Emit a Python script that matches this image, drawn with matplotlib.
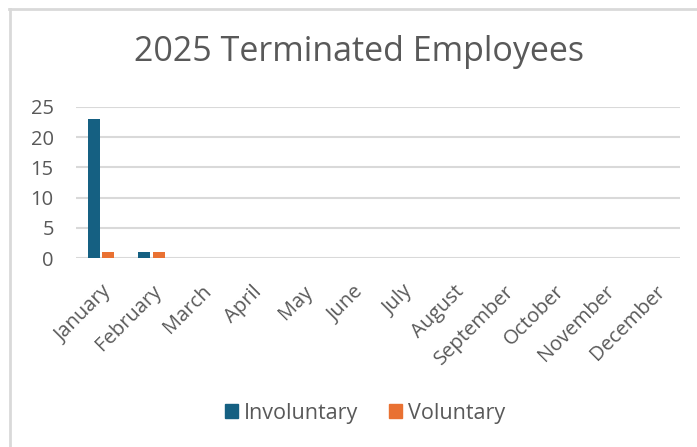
import numpy as np
import matplotlib.pyplot as plt
from matplotlib.lines import Line2D

months = ['January', 'February', 'March', 'April', 'May', 'June', 'July',
          'August', 'September', 'October', 'November', 'December']
involuntary = [23, 1, 0, 0, 0, 0, 0, 0, 0, 0, 0, 0]
voluntary = [1, 1, 0, 0, 0, 0, 0, 0, 0, 0, 0, 0]

plt.rcParams['font.family'] = ['Open Sans', 'DejaVu Sans']
text_col = '#595959'
grid_col = '#d9d9d9'

fig = plt.figure(figsize=(6.97, 4.47), dpi=100)
ax = fig.add_axes([76 / 697, 1 - 258 / 447, 604 / 697, 151 / 447])

x = np.arange(len(months))
w = 0.24
ax.bar(x - 0.14, involuntary, w, color='#156082', label='Involuntary')
ax.bar(x + 0.14, voluntary, w, color='#E97132', label='Voluntary')

ax.set_xlim(-0.5, len(months) - 0.5)
ax.set_ylim(0, 25)
ax.set_yticks(range(0, 26, 5))
ax.yaxis.grid(True, color=grid_col, linewidth=1.5)
ax.set_axisbelow(True)
for s in ax.spines.values():
    s.set_visible(False)
ax.tick_params(length=0, colors=text_col, labelsize=14.5)
ax.tick_params(axis='y', pad=16)
ax.set_xticks(x)
ax.set_xticklabels(months, rotation=45, ha='right', rotation_mode='anchor')
ax.tick_params(axis='x', pad=17)

fig.text(359.5 / 697, 1 - 52 / 447, '2025 Terminated Employees', ha='center',
         va='center', fontsize=24.5, color=text_col)

handles = [plt.Rectangle((0, 0), 1, 1, color='#156082'),
           plt.Rectangle((0, 0), 1, 1, color='#E97132')]
fig.legend(handles, ['Involuntary', 'Voluntary'], loc='center',
           bbox_to_anchor=(365 / 697, 1 - 413 / 447), ncol=2, frameon=False,
           fontsize=15.5, labelcolor=text_col, handlelength=0.6, handleheight=0.6,
           handletextpad=0.3, columnspacing=1.4)

# chart border (top and left edges visible)
fig.add_artist(Line2D([10 / 697, 10 / 697], [0, 1 - 9 / 447], color=grid_col, lw=2,
                      transform=fig.transFigure))
fig.add_artist(Line2D([9 / 697, 1], [1 - 9 / 447, 1 - 9 / 447], color=grid_col, lw=2,
                      transform=fig.transFigure))

plt.savefig('out.png', dpi=100)
